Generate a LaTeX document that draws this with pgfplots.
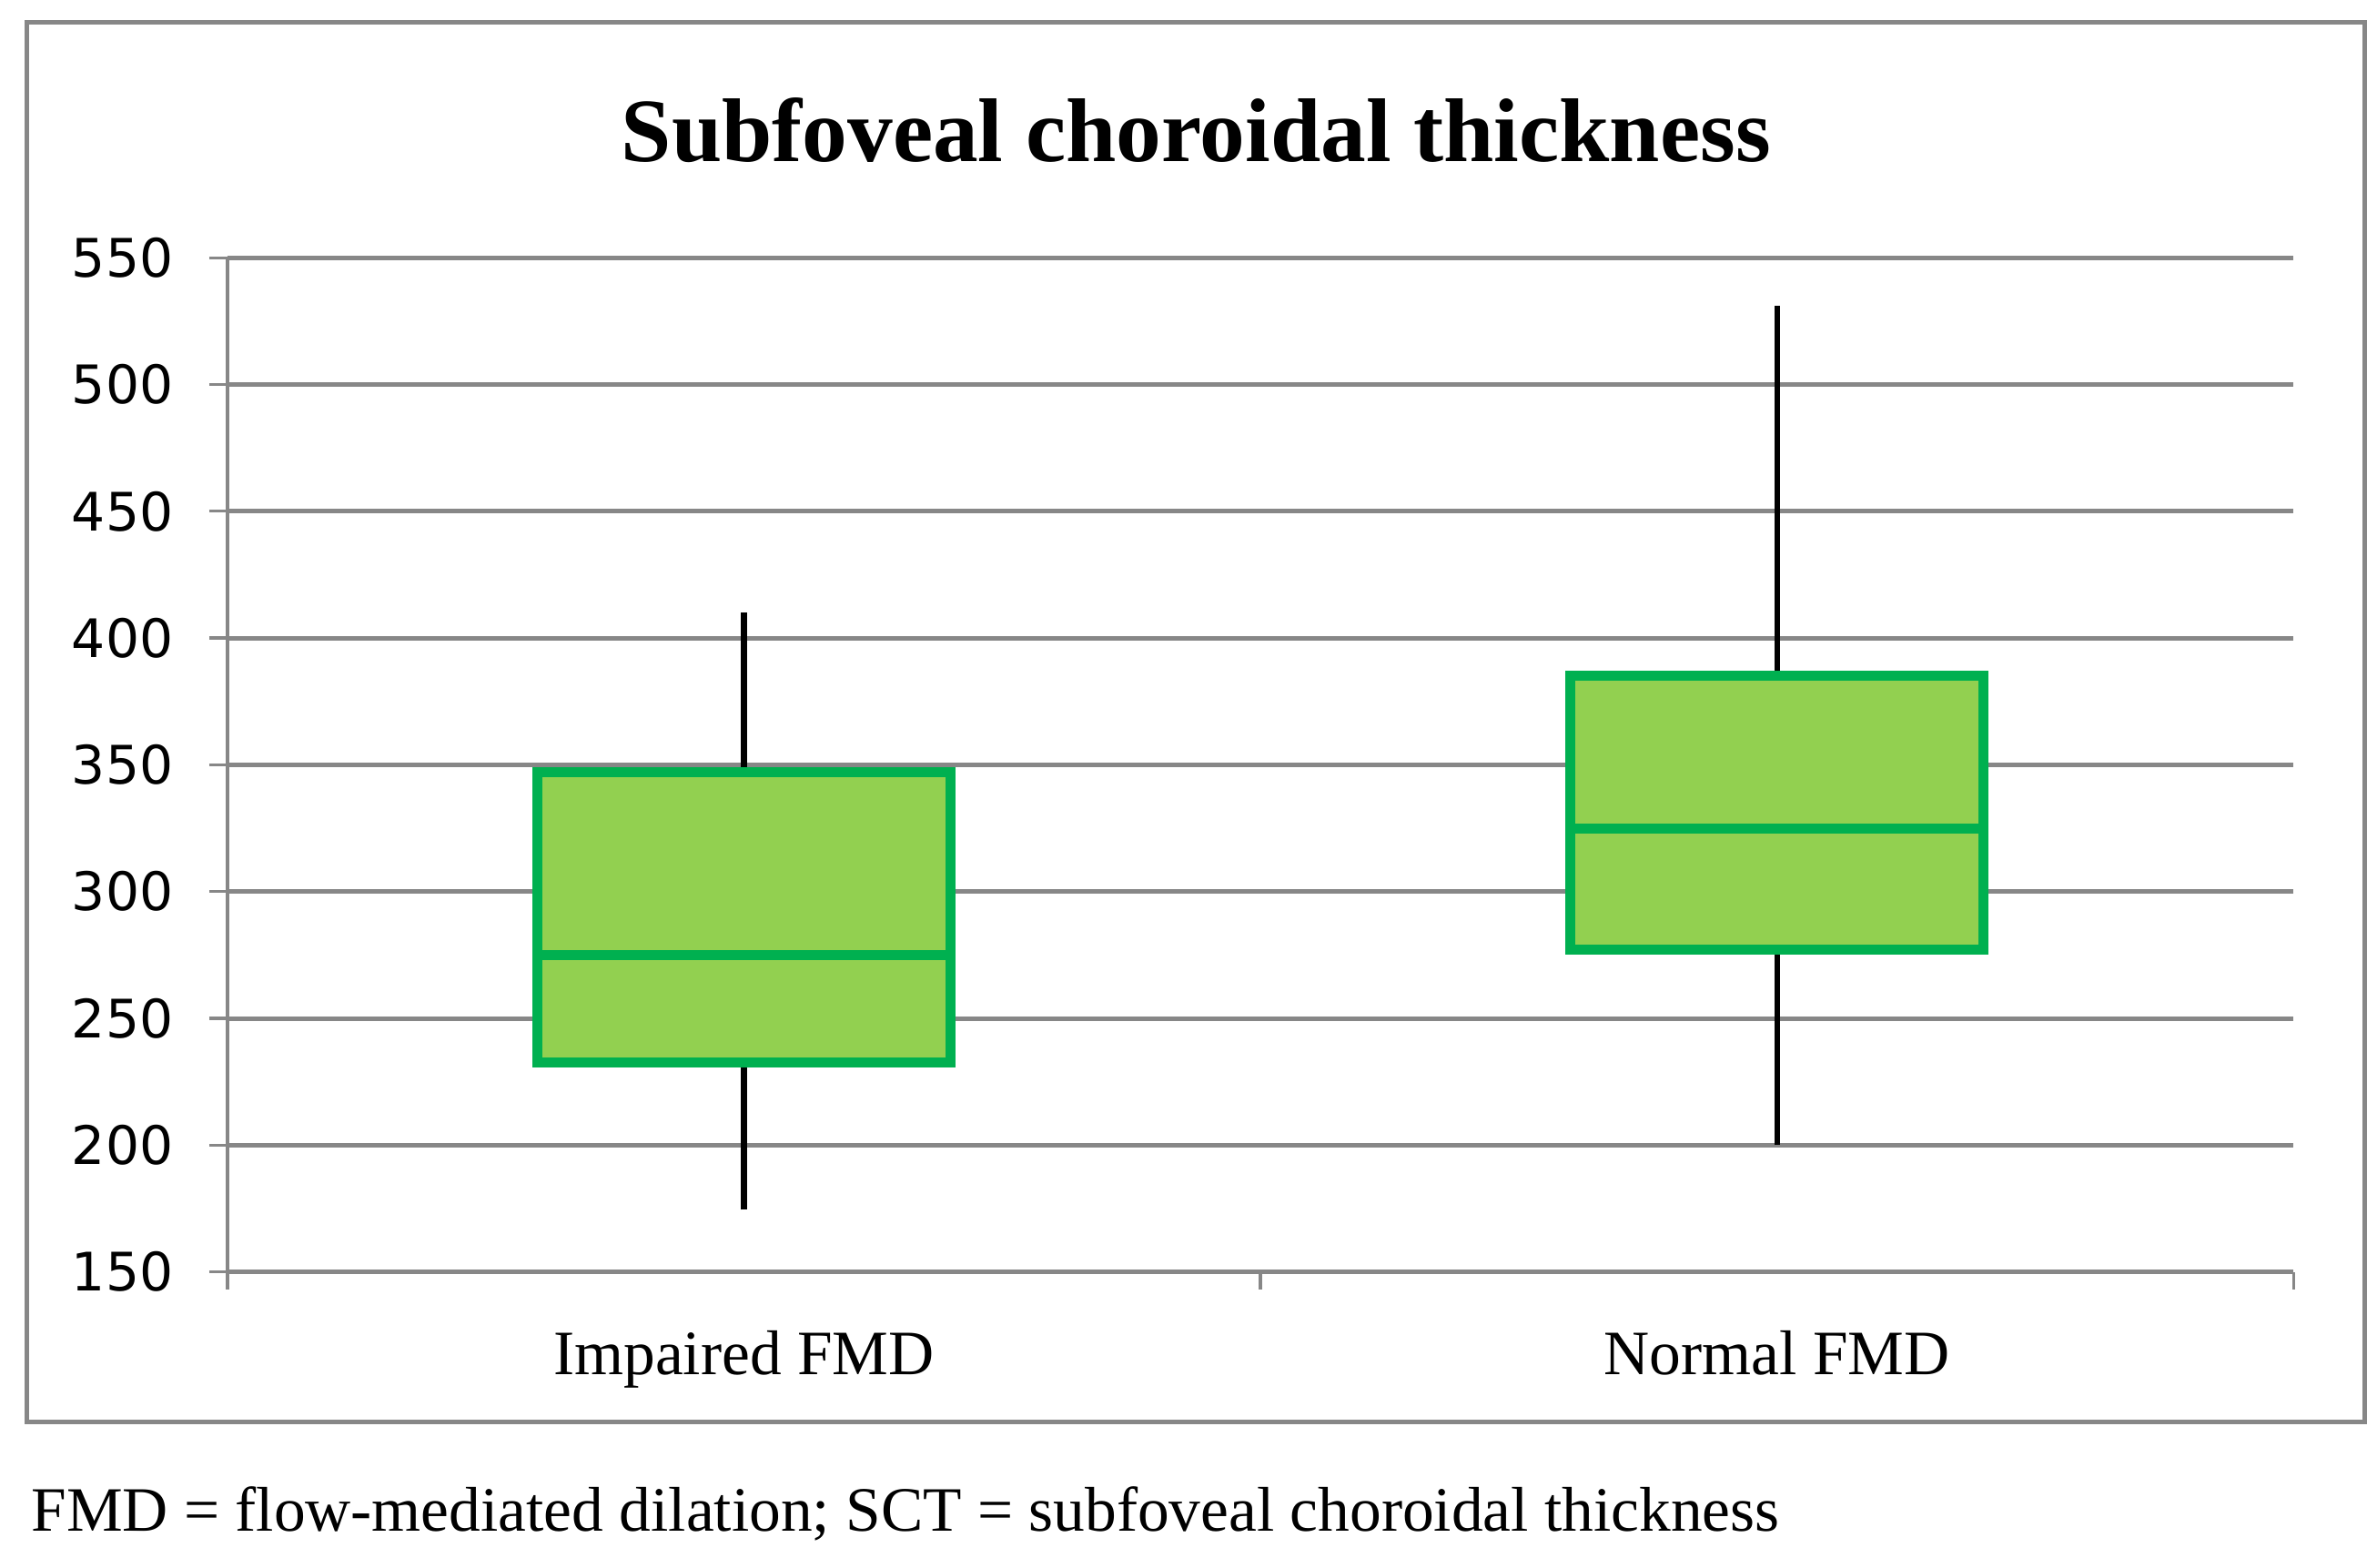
\documentclass[border=0pt]{standalone}
\usepackage{fontspec}
\setmainfont{Liberation Serif}
\newfontfamily\tickfont{DejaVu Sans}
\usepackage{pgfplots}
\pgfplotsset{compat=1.18}

\definecolor{boxgreen}{HTML}{00B050}
\definecolor{boxfill}{HTML}{92D050}
\definecolor{gridgray}{HTML}{878787}

\begin{document}
\begin{tikzpicture}
  \useasboundingbox (-45pt,-58.5pt) rectangle (425.4pt,251.7pt);
  % outer frame
  \draw[gridgray, line width=0.9pt] (-39.6pt,-29.7pt) rectangle (423pt,247.2pt);
  \node[font=\fontsize{17.9}{20}\selectfont\bfseries] at (191.7pt,226pt) {Subfoveal choroidal thickness};
  \begin{axis}[
      at={(0pt,0pt)}, anchor=south west,
      scale only axis,
      width=408.9pt, height=200.7pt,
      xmin=-0.5, xmax=1.5,
      ymin=150, ymax=550,
      ytick={150,200,...,550},
      xtick={0,1},
      xticklabels={Impaired FMD, Normal FMD},
      minor xtick={-0.5,0.5,1.5},
      tick align=outside,
      major tick length=3.6pt,
      minor tick length=3.4pt,
      major x tick style={draw=none},
      tick style={gridgray, line width=0.6pt},
      axis x line*=bottom,
      axis y line*=left,
      axis line style={gridgray, line width=0.6pt, -},
      ymajorgrids,
      grid style={gridgray, line width=0.9pt},
      /pgf/number format/assume math mode=true,
      yticklabel style={font=\tickfont\fontsize{10.5}{12}\selectfont, xshift=-3.6pt},
      xticklabel style={font=\fontsize{12.5}{14}\selectfont, yshift=-4.5pt},
      whisker/.style={black, line width=1.1pt},
      box/.style={draw=boxgreen, fill=boxfill, line width=2pt},
      median/.style={boxgreen, line width=2pt},
    ]
    % Impaired FMD: whiskers 174.5 / 410, quartiles 232.5 / 347, median 275
    \addplot[whisker] coordinates {(0,174.5) (0,232.5)};
    \addplot[whisker] coordinates {(0,347) (0,410)};
    \addplot[box] coordinates {(-0.2,232.5) (0.2,232.5) (0.2,347) (-0.2,347)} -- cycle;
    \addplot[median] coordinates {(-0.2,275) (0.2,275)};
    % Normal FMD: whiskers 200 / 531, quartiles 277 / 385, median 325
    \addplot[whisker] coordinates {(1,200) (1,277)};
    \addplot[whisker] coordinates {(1,385) (1,531)};
    \addplot[box] coordinates {(0.8,277) (1.2,277) (1.2,385) (0.8,385)} -- cycle;
    \addplot[median] coordinates {(0.8,325) (1.2,325)};
  \end{axis}
  \node[anchor=base west, font=\fontsize{12.5}{14}\selectfont, inner sep=0pt] at (-39pt,-51.3pt)
    {FMD = flow-mediated dilation; SCT = subfoveal choroidal thickness};
\end{tikzpicture}
\end{document}
